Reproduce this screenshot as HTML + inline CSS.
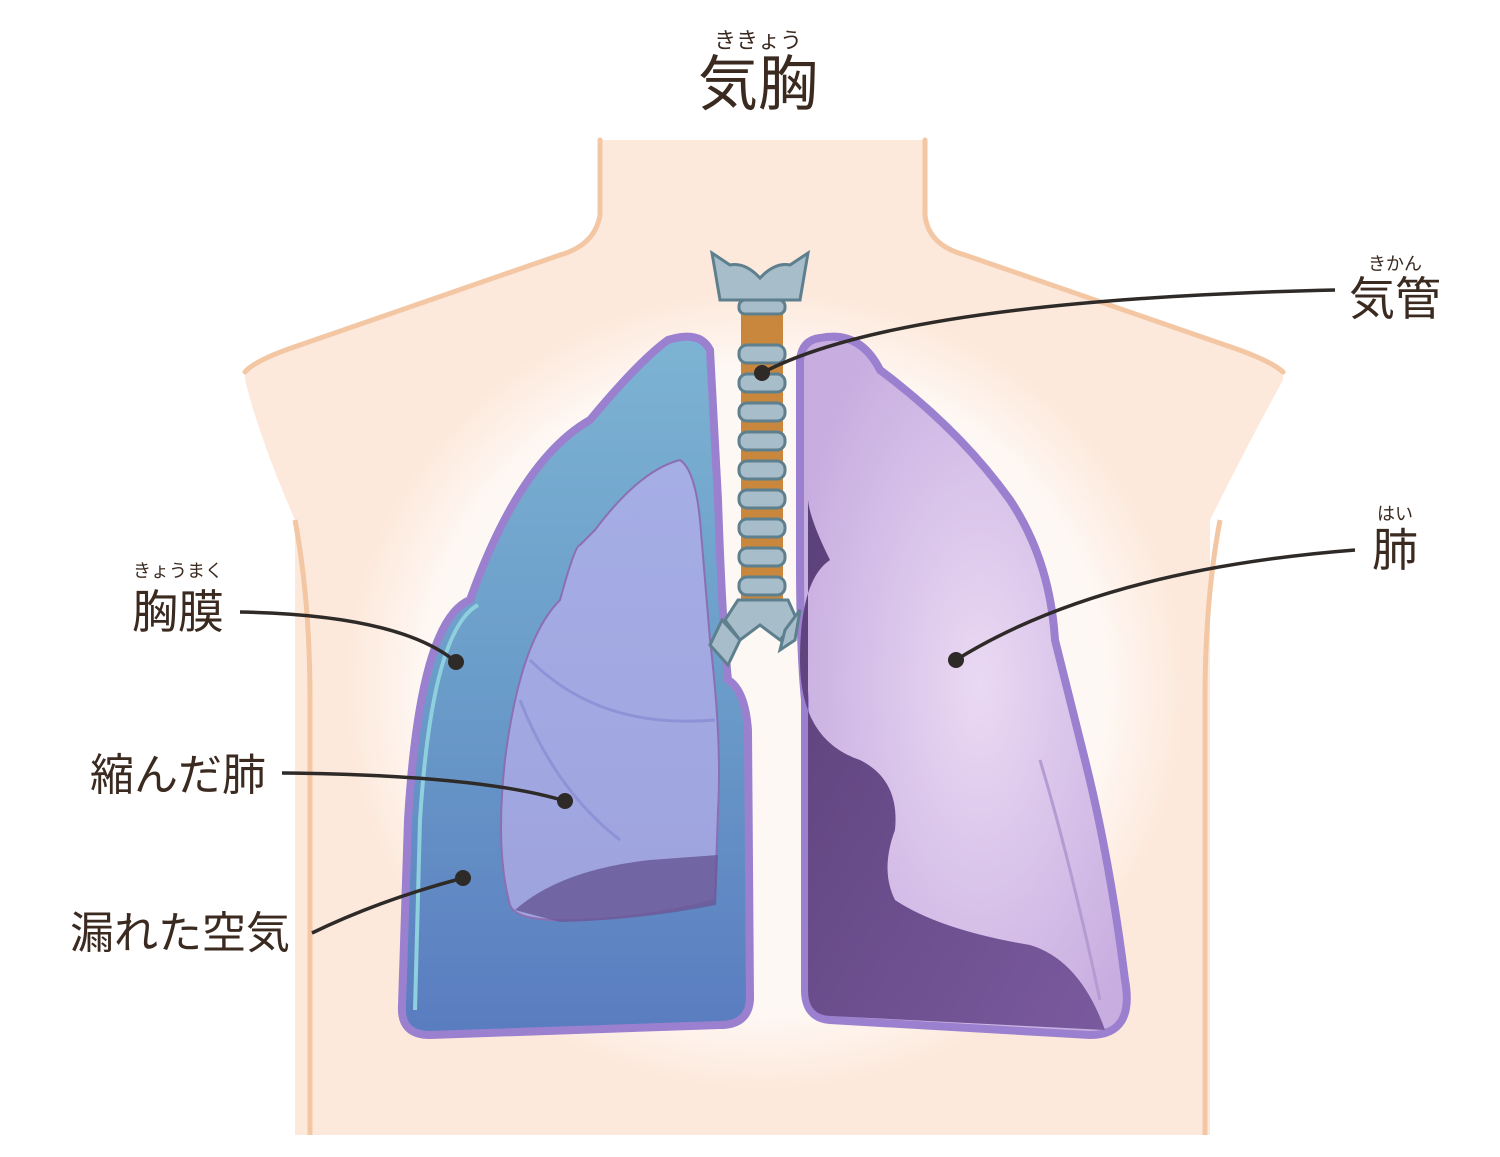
<!DOCTYPE html>
<html><head><meta charset="utf-8"><style>
html,body{margin:0;padding:0;background:#fff;}
svg{display:block;}
text{font-family:"Liberation Sans","Noto Sans CJK JP",sans-serif;fill:#3b2a20;}
</style></head><body>
<svg width="1500" height="1157" viewBox="0 0 1500 1157" xmlns="http://www.w3.org/2000/svg">
<defs>
<linearGradient id="cav" x1="0" y1="0" x2="0" y2="1">
<stop offset="0" stop-color="#7db3d3"/><stop offset="0.5" stop-color="#6a9cc9"/><stop offset="1" stop-color="#5a7cc0"/></linearGradient>
<linearGradient id="col" x1="0" y1="0" x2="0" y2="1">
<stop offset="0" stop-color="#a6aee6"/><stop offset="1" stop-color="#9ea3dd"/></linearGradient>
<radialGradient id="rl" cx="0.55" cy="0.5" r="0.6">
<stop offset="0" stop-color="#ead9f3"/><stop offset="1" stop-color="#c7ade0"/></radialGradient>
<linearGradient id="rd" x1="0" y1="0" x2="1" y2="1">
<stop offset="0" stop-color="#5a4079"/><stop offset="1" stop-color="#7a5a9e"/></linearGradient>
<radialGradient id="halo" cx="0.5" cy="0.5" r="0.5">
<stop offset="0.8" stop-color="#fff" stop-opacity="0.7"/><stop offset="1" stop-color="#fff" stop-opacity="0"/></radialGradient>
</defs>
<path d="M600 140 L600 215 Q595 245 560 255 L300 345 Q250 360 245 372 L245 380 Q260 440 295 520 L295 1135 L1210 1135 L1210 520 Q1250 440 1283 380 L1283 372 Q1275 360 1225 345 L965 255 Q928 245 925 215 L925 140 Z" fill="#fde9dc"/>
<path d="M600 140 L600 215 Q595 245 560 255 L300 345 Q255 360 245 372" fill="none" stroke="#f3c7a3" stroke-width="5" stroke-linecap="round"/>
<path d="M925 140 L925 215 Q928 245 965 255 L1225 345 Q1270 360 1283 372" fill="none" stroke="#f3c7a3" stroke-width="5" stroke-linecap="round"/>
<path d="M295 520 Q310 600 310 700 L310 1135" fill="none" stroke="#f3c7a3" stroke-width="5"/>
<path d="M1220 520 Q1205 600 1205 700 L1205 1135" fill="none" stroke="#f3c7a3" stroke-width="5"/>
<ellipse cx="765" cy="690" rx="420" ry="400" fill="url(#halo)"/>
<path d="M668 340 Q700 330 710 350 L718 500 Q722 620 728 680 Q745 690 748 730 L750 1000 Q748 1025 720 1025 L430 1035 Q400 1035 402 1005 L408 820 Q420 620 470 600 Q520 460 590 420 Q640 360 668 340 Z" fill="url(#cav)" stroke="#9b80cf" stroke-width="8"/>
<path d="M415 1010 L420 820 Q432 630 478 605" fill="none" stroke="#8fd0dd" stroke-width="4"/>
<path d="M510 905 Q495 850 505 760 Q520 640 560 600 Q575 545 580 545 L595 530 Q640 470 680 460 Q695 470 700 520 L710 640 Q722 740 718 810 L715 900 Q640 920 560 920 Q515 920 510 905 Z" fill="url(#col)" stroke="#8c6fb3" stroke-width="2"/>
<path d="M515 910 Q560 870 650 860 L718 855 L716 905 Q640 920 560 922 Z" fill="#6a5a9a" opacity="0.85"/>
<path d="M530 660 Q600 730 715 720" fill="none" stroke="#8d93d6" stroke-width="3"/>
<path d="M520 700 Q555 790 620 840" fill="none" stroke="#8d93d6" stroke-width="3"/>
<path d="M820 338 Q860 330 880 370 Q960 430 1010 500 Q1050 560 1055 640 Q1070 700 1085 760 Q1110 860 1125 980 Q1135 1035 1090 1035 L830 1020 Q805 1018 805 990 L805 700 Q800 650 800 560 L800 360 Q802 340 820 338 Z" fill="url(#rl)" stroke="#9b80cf" stroke-width="8"/>
<path d="M808 500 L808 990 Q808 1015 830 1016 L1105 1030 Q1080 960 1030 945 Q940 930 895 900 Q880 870 895 830 Q900 780 860 760 Q800 740 800 660 Q800 580 830 560 Q810 520 808 500 Z" fill="url(#rd)"/>
<path d="M1040 760 Q1070 860 1100 1000" fill="none" stroke="#b49bd2" stroke-width="3"/>
<path d="M712 253 L730 265 Q745 262 760 278 Q775 262 790 265 L808 253 L800 300 L720 300 Z" fill="#a7bdca" stroke="#5e7f8e" stroke-width="3"/>
<rect x="741" y="300" width="42" height="300" fill="#c8873c"/>
<g fill="#a7bdca" stroke="#5e7f8e" stroke-width="3">
<rect x="739" y="300" width="46" height="14" rx="6"/>
<rect x="739" y="345" width="46" height="18" rx="8"/>
<rect x="739" y="374" width="46" height="18" rx="8"/>
<rect x="739" y="403" width="46" height="18" rx="8"/>
<rect x="739" y="432" width="46" height="18" rx="8"/>
<rect x="739" y="461" width="46" height="18" rx="8"/>
<rect x="739" y="490" width="46" height="18" rx="8"/>
<rect x="739" y="519" width="46" height="18" rx="8"/>
<rect x="739" y="548" width="46" height="18" rx="8"/>
<rect x="739" y="577" width="46" height="18" rx="8"/>
<path d="M738 600 L788 600 L797 620 L780 640 L760 625 L740 640 L725 620 Z"/>
<path d="M722 620 L740 640 L728 665 L710 645 Z"/>
<path d="M800 610 L785 630 L780 650 L795 640 Z"/>
</g>
<g stroke="#2e2a28" stroke-width="3.5" fill="none">
<path d="M762 373 Q900 300 1335 290"/>
<path d="M956 660 Q1100 570 1355 550"/>
<path d="M240 612 Q400 615 456 662"/>
<path d="M282 773 Q480 775 565 801"/>
<path d="M312 933 Q380 900 463 878"/>
</g>
<g fill="#2e2a28">
<circle cx="762" cy="373" r="8"/><circle cx="956" cy="660" r="8"/><circle cx="456" cy="662" r="8"/><circle cx="565" cy="801" r="8"/><circle cx="463" cy="878" r="8"/>
</g>
<text x="758" y="48" font-size="22" text-anchor="middle">ききょう</text>
<text x="758" y="105" font-size="60" text-anchor="middle">気胸</text>
<text x="1395" y="270" font-size="18" text-anchor="middle">きかん</text>
<text x="1395" y="315" font-size="46" text-anchor="middle">気管</text>
<text x="1395" y="520" font-size="18" text-anchor="middle">はい</text>
<text x="1395" y="566" font-size="46" text-anchor="middle">肺</text>
<text x="178" y="577" font-size="18" text-anchor="middle">きょうまく</text>
<text x="178" y="628" font-size="46" text-anchor="middle">胸膜</text>
<text x="178" y="790" font-size="44" text-anchor="middle">縮んだ肺</text>
<text x="180" y="948" font-size="44" text-anchor="middle">漏れた空気</text>
</svg>
</body></html>
